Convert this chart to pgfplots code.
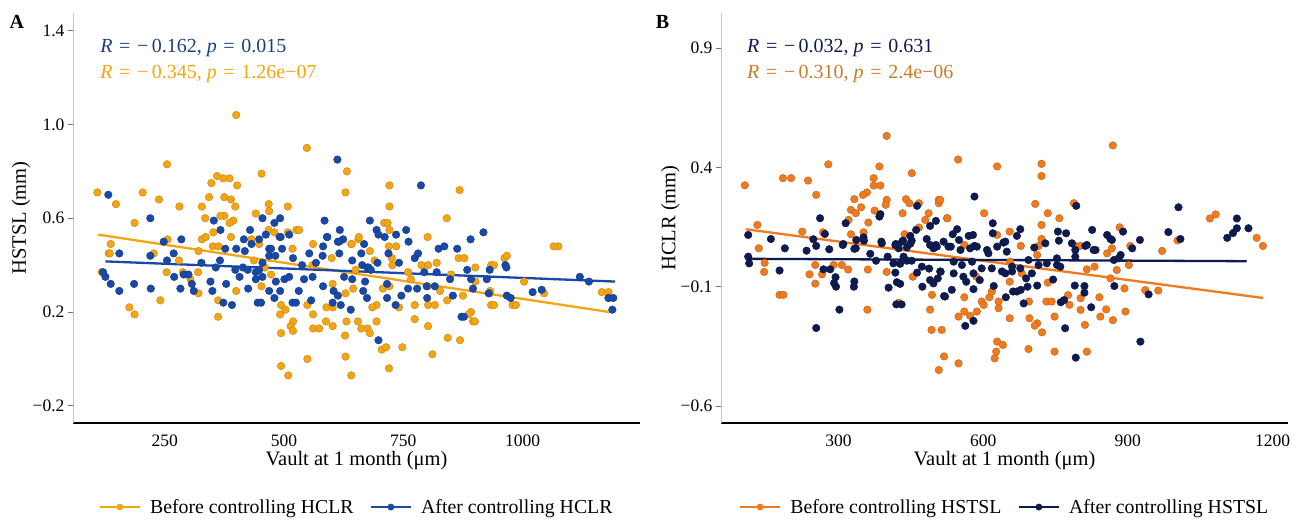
\documentclass[border=0pt]{standalone}
\usepackage{fontspec}
\setmainfont{Liberation Serif}
\usepackage{pgfplots}
\pgfplotsset{compat=1.18}

\definecolor{aOrange}{HTML}{F5A512}
\definecolor{aBlue}{HTML}{1849A6}
\definecolor{aBlueTxt}{HTML}{1F3F78}
\definecolor{bOrange}{HTML}{F07A1C}
\definecolor{bNavy}{HTML}{0D1B50}
\definecolor{bOrangeTxt}{HTML}{C97D2A}

\pgfplotsset{
  panel/.style={
    scale only axis, width=567pt, height=410pt, clip=false,
    axis x line*=bottom, axis y line*=left,
    x axis line style={black, line width=1.6pt, -},
    y axis line style={black!22, line width=0.6pt, -},
    xtick style={draw=none},
    ytick style={black!55, line width=0.8pt},
    tick align=outside, major tick length=5pt,
    tick label style={font=\fontsize{17.5}{19}\selectfont, black},
    xticklabel style={anchor=center, yshift=-12.5pt, inner sep=0.5pt},
    label style={font=\fontsize{20.5}{23}\selectfont},
    legend style={draw=none, fill=none, font=\fontsize{19.8}{22}\selectfont,
      at={(0.5,-0.205)}, anchor=center, legend columns=2,
      /tikz/every odd column/.append style={column sep=7pt},
      /tikz/every even column/.append style={column sep=14pt}},
  },
  dots/.style={only marks, mark=*, mark size=3.8pt,
    mark options={fill=#1, draw=#1!80!black, line width=0.4pt}},
  fit/.style={no marks, #1, line width=2.3pt},
  legend image code/.code={\draw[mark repeat=2, mark phase=2, #1]
    plot coordinates {(0pt,0pt) (20pt,0pt) (40pt,0pt)};},
}
\newcommand\sfs{\fontsize{20}{22}\selectfont}
\newcommand\eq{\,\,=\,\,}

\begin{document}
\begin{tikzpicture}[x=1pt, y=1pt]
\useasboundingbox (0,0) rectangle (1301,520);

% ---------- panel A ----------
\begin{axis}[panel, at={(73pt,97pt)},
  xmin=58, xmax=1246, ymin=-0.273, ymax=1.475,
  xtick={250,500,750,1000}, xticklabels={250,500,750,1000},
  ytick={-0.2,0.2,0.6,1.0,1.4}, yticklabels={−0.2,0.2,0.6,1.0,1.4},
  xlabel={Vault at 1 month (μm)}, ylabel={HSTSL (mm)},
  xlabel style={at={(axis description cs:0.5,-0.092)}, anchor=center, inner sep=0.5pt},
  ylabel style={at={(axis description cs:-0.092,0.5)}, anchor=center},
]
\addlegendimage{aOrange, line width=2.6pt, mark=*, mark size=3.2pt, mark options={line width=0.4pt}}
\addlegendentry{Before controlling HCLR}
\addlegendimage{aBlue, line width=2.6pt, mark=*, mark size=3.2pt, mark options={line width=0.4pt}}
\addlegendentry{After controlling HCLR}

\addplot[dots=aOrange, forget plot] table {
x y
400 1.04
255 0.83
453 0.79
360 0.78
373 0.77
386 0.77
348 0.75
402 0.74
109 0.71
204 0.71
238 0.68
148 0.66
281 0.65
343 0.69
375 0.69
389 0.68
398 0.65
328 0.65
468 0.66
469 0.63
508 0.65
335 0.60
375 0.61
367 0.61
394 0.59
386 0.58
441 0.62
187 0.58
526 0.55
468 0.55
480 0.54
352 0.54
389 0.52
328 0.51
336 0.52
137 0.49
256 0.51
432 0.51
448 0.49
351 0.48
363 0.48
508 0.54
548 0.90
632 0.80
629 0.71
721 0.74
721 0.65
868 0.72
841 0.60
710 0.58
717 0.58
721 0.55
801 0.52
656 0.51
641 0.49
561 0.49
720 0.48
735 0.48
532 0.55
133 0.45
227 0.45
118 0.37
176 0.22
187 0.19
241 0.25
254 0.37
280 0.42
321 0.46
320 0.37
321 0.28
362 0.25
362 0.18
400 0.29
437 0.42
453 0.31
494 0.23
503 0.21
492 0.19
519 0.16
514 0.14
519 0.12
494 0.11
494 -0.03
509 -0.07
518 0.47
460 0.39
473 0.36
304 0.34
288 0.37
135 0.45
642 0.49
657 0.52
680 0.46
726 0.43
727 0.40
788 0.40
802 0.40
866 0.43
878 0.43
934 0.40
962 0.43
901 0.39
602 0.32
645 0.30
707 0.30
721 0.31
766 0.34
801 0.31
827 0.29
842 0.25
875 0.27
901 0.33
932 0.29
549 0.23
589 0.22
561 0.19
602 0.22
629 0.28
694 0.23
685 0.22
741 0.22
774 0.23
802 0.23
816 0.23
588 0.16
602 0.14
631 0.16
655 0.16
694 0.16
561 0.13
574 0.13
662 0.13
675 0.13
680 0.11
628 0.10
774 0.17
802 0.14
892 0.20
896 0.16
934 0.23
979 0.23
843 0.09
869 0.08
748 0.05
705 0.04
714 0.05
549 0.00
629 0.01
811 0.02
720 -0.04
641 -0.07
940 0.40
1003 0.33
986 0.23
940 0.23
1045 0.28
1166 0.285
1180 0.285
1180 0.26
931 0.28
900 0.16
887 0.19
1075 0.48
1065 0.48
967 0.44
560 0.40
600 0.43
650 0.38
690 0.42
760 0.37
820 0.41
850 0.36
};
\addplot[dots=aBlue, forget plot] table {
x y
132 0.70
220 0.60
353 0.59
455 0.60
492 0.60
480 0.58
367 0.55
429 0.55
462 0.53
493 0.52
511 0.53
416 0.51
432 0.49
448 0.51
248 0.50
285 0.51
377 0.47
400 0.47
469 0.47
496 0.47
612 0.85
787 0.74
585 0.59
680 0.59
617 0.55
590 0.52
694 0.55
698 0.53
711 0.52
735 0.53
756 0.55
761 0.50
613 0.50
624 0.51
668 0.49
582 0.48
891 0.51
918 0.54
824 0.47
836 0.48
863 0.47
155 0.45
220 0.44
255 0.42
269 0.45
121 0.37
126 0.35
137 0.32
155 0.29
186 0.32
221 0.30
270 0.35
290 0.36
300 0.36
283 0.30
307 0.32
311 0.29
327 0.41
346 0.33
350 0.29
357 0.39
366 0.42
379 0.32
373 0.24
391 0.23
418 0.46
398 0.38
407 0.35
414 0.39
424 0.38
425 0.30
441 0.34
448 0.38
455 0.35
469 0.44
473 0.47
482 0.44
491 0.52
483 0.33
501 0.34
511 0.35
469 0.29
480 0.26
492 0.29
519 0.43
531 0.29
445 0.24
452 0.24
518 0.24
525 0.24
441 0.37
455 0.41
591 0.52
616 0.50
553 0.45
581 0.44
616 0.45
662 0.45
643 0.42
664 0.40
675 0.39
696 0.41
719 0.45
774 0.43
781 0.45
741 0.41
964 0.40
884 0.38
794 0.37
820 0.37
848 0.34
892 0.34
925 0.34
542 0.34
560 0.35
582 0.31
604 0.29
613 0.27
626 0.35
643 0.34
670 0.33
666 0.29
674 0.26
716 0.32
716 0.26
734 0.23
746 0.27
760 0.30
779 0.30
799 0.31
816 0.31
800 0.26
854 0.27
896 0.30
929 0.28
967 0.27
557 0.25
640 0.21
698 0.08
872 0.18
602 0.24
619 0.23
677 0.39
682 0.38
567 0.41
538 0.40
975 0.26
1021 0.285
1040 0.295
1120 0.35
1139 0.33
1180 0.26
1190 0.26
1188 0.21
966 0.39
931 0.38
877 0.18
};
\addplot[fit=aOrange, forget plot] coordinates {(111,0.53) (1182,0.20)};
\addplot[fit=aBlue, forget plot] coordinates {(126,0.416) (1194,0.33)};

\node[anchor=center, font=\bfseries\fontsize{20}{22}\selectfont] at (rel axis cs:-0.099,0.978) {A};
\node[anchor=west, text=aBlueTxt, font=\sfs] at (rel axis cs:0.042,0.915) {\textit{R}\eq−\,0.162, \textit{p}\eq0.015};
\node[anchor=west, text=aOrange, font=\sfs] at (rel axis cs:0.042,0.851) {\textit{R}\eq−\,0.345, \textit{p}\eq1.26e−07};
\end{axis}

% ---------- panel B ----------
\begin{axis}[panel, at={(721pt,97pt)},
  xmin=56.6, xmax=1232, ymin=-0.671, ymax=1.047,
  xtick={300,600,900,1200}, xticklabels={300,600,900,1200},
  ytick={-0.6,-0.1,0.4,0.9}, yticklabels={−0.6,−0.1,0.4,0.9},
  xlabel={Vault at 1 month (μm)}, ylabel={HCLR (mm)},
  xlabel style={at={(axis description cs:0.5,-0.092)}, anchor=center, inner sep=0.5pt},
  ylabel style={at={(axis description cs:-0.089,0.5)}, anchor=center},
]
\addlegendimage{bOrange, line width=2.6pt, mark=*, mark size=3.2pt, mark options={line width=0.4pt}}
\addlegendentry{Before controlling HSTSL}
\addlegendimage{bNavy, line width=2.6pt, mark=*, mark size=3.2pt, mark options={line width=0.4pt}}
\addlegendentry{After controlling HSTSL}

\addplot[dots=bOrange, forget plot] table {
x y
400 0.532
106 0.325
185 0.355
202 0.355
237 0.345
279 0.413
254 0.285
385 0.404
452 0.376
373 0.355
373 0.324
387 0.324
359 0.295
351 0.285
333 0.267
326 0.222
336 0.208
347 0.233
321 0.18
375 0.219
400 0.264
398 0.243
362 0.169
440 0.267
447 0.25
433 0.208
467 0.25
487 0.208
480 0.18
508 0.264
508 0.25
525 0.187
132 0.159
135 0.061
225 0.131
326 0.12
352 0.128
437 0.12
467 0.148
268 0.128
869 0.492
548 0.433
629 0.404
721 0.415
721 0.364
511 0.264
708 0.247
734 0.208
758 0.187
526 0.187
602 0.208
721 0.159
788 0.25
883 0.149
655 0.131
629 0.117
678 0.071
721 0.10
715 0.071
791 0.071
801 0.071
867 0.061
905 0.071
561 0.075
1070 0.186
1082 0.203
1167 0.105
1180 0.071
1003 0.094
971 0.05
146 -0.038
178 -0.134
186 -0.134
240 -0.048
252 -0.009
266 -0.048
252 -0.087
290 -0.009
307 -0.009
320 -0.028
361 -0.028
400 -0.038
360 -0.196
454 -0.058
494 -0.134
490 -0.196
493 -0.281
514 -0.281
519 -0.392
508 -0.449
425 -0.167
147 0.0
549 -0.421
561 -0.144
549 -0.225
561 -0.204
573 -0.222
587 -0.204
597 -0.162
601 -0.176
613 -0.144
618 -0.12
632 -0.162
632 -0.19
655 -0.232
655 -0.079
695 -0.162
696 -0.232
712 -0.253
707 -0.263
722 -0.291
629 -0.33
641 -0.344
627 -0.372
624 -0.40
694 -0.361
731 -0.162
742 -0.162
748 -0.225
748 -0.372
734 -0.083
776 -0.135
779 -0.176
802 -0.197
811 -0.26
815 -0.372
802 -0.148
841 -0.144
855 -0.195
843 -0.225
869 -0.24
895 -0.204
893 -0.107
877 -0.03
815 -0.027
857 0.04
936 -0.114
963 -0.116
586 -0.058
656 0.005
712 0.033
680 -0.044
902 -0.009
864 -0.065
831 -0.016
};
\addplot[dots=bNavy, forget plot] table {
x y
262 0.187
315 0.166
385 0.194
387 0.204
463 0.239
490 0.155
502 0.176
113 0.117
160 0.10
189 0.061
234 0.051
254 0.071
272 0.121
281 0.057
310 0.079
336 0.061
352 0.107
353 0.093
389 0.089
419 0.079
425 0.061
434 0.093
449 0.113
452 0.093
461 0.138
483 0.10
502 0.075
497 0.061
528 0.068
442 0.065
248 0.099
582 0.278
793 0.239
620 0.166
677 0.141
670 0.113
620 0.124
546 0.141
537 0.12
570 0.113
579 0.117
755 0.131
772 0.124
757 0.093
826 0.138
857 0.117
864 0.10
890 0.131
925 0.096
550 0.096
533 0.068
582 0.071
642 0.085
729 0.082
706 0.064
784 0.082
812 0.071
833 0.054
909 0.061
885 0.033
611 0.04
649 0.047
1005 0.233
1106 0.105
1118 0.125
1126 0.145
1150 0.145
1126 0.186
984 0.129
1009 0.10
113 0.026
115 -0.002
178 -0.032
254 -0.273
302 -0.196
269 -0.027
283 -0.027
294 -0.06
295 -0.10
291 -0.085
333 -0.078
332 -0.10
337 0.096
378 0.009
402 0.026
418 -0.041
404 -0.104
421 -0.081
428 -0.088
420 -0.174
431 -0.174
366 0.038
414 -0.002
428 -0.004
442 0.009
435 0.026
452 0.009
463 -0.041
474 -0.10
490 -0.072
497 -0.086
506 -0.065
521 -0.141
512 -0.037
473 -0.016
488 -0.024
309 0.075
333 0.059
390 0.082
418 0.075
432 0.089
449 0.08
490 0.075
504 0.068
511 -0.036
535 -0.113
519 -0.139
580 -0.11
563 -0.264
580 -0.243
647 -0.144
662 -0.12
670 -0.12
678 -0.113
684 -0.17
689 -0.065
712 -0.095
692 -0.10
745 -0.07
761 -0.165
768 -0.156
770 -0.274
790 -0.095
810 -0.097
810 -0.125
824 -0.186
792 -0.397
926 -0.33
872 -0.097
943 -0.132
565 -0.079
593 -0.072
622 -0.097
646 -0.044
660 -0.036
518 0.089
553 0.054
573 0.061
587 0.068
608 0.054
629 0.068
646 0.089
539 0.005
556 -0.009
577 0.005
597 -0.023
618 -0.023
639 -0.036
660 -0.016
677 -0.023
694 0.012
715 -0.009
732 -0.002
753 -0.009
791 0.054
815 0.075
829 0.054
871 0.012
539 -0.044
580 -0.044
559 -0.058
753 0.019
760 -0.016
701 -0.044
791 0.026
881 0.019
867 0.096
};
\addplot[fit=bOrange, forget plot] coordinates {(108,0.141) (1180,-0.147)};
\addplot[fit=bNavy, forget plot] coordinates {(110,0.017) (1146,0.007)};

\node[anchor=center, font=\bfseries\fontsize{20}{22}\selectfont] at (rel axis cs:-0.103,0.978) {B};
\node[anchor=west, text=bNavy, font=\sfs] at (rel axis cs:0.040,0.915) {\textit{R}\eq−\,0.032, \textit{p}\eq0.631};
\node[anchor=west, text=bOrangeTxt, font=\sfs] at (rel axis cs:0.040,0.851) {\textit{R}\eq−\,0.310, \textit{p}\eq2.4e−06};
\end{axis}
\end{tikzpicture}
\end{document}
